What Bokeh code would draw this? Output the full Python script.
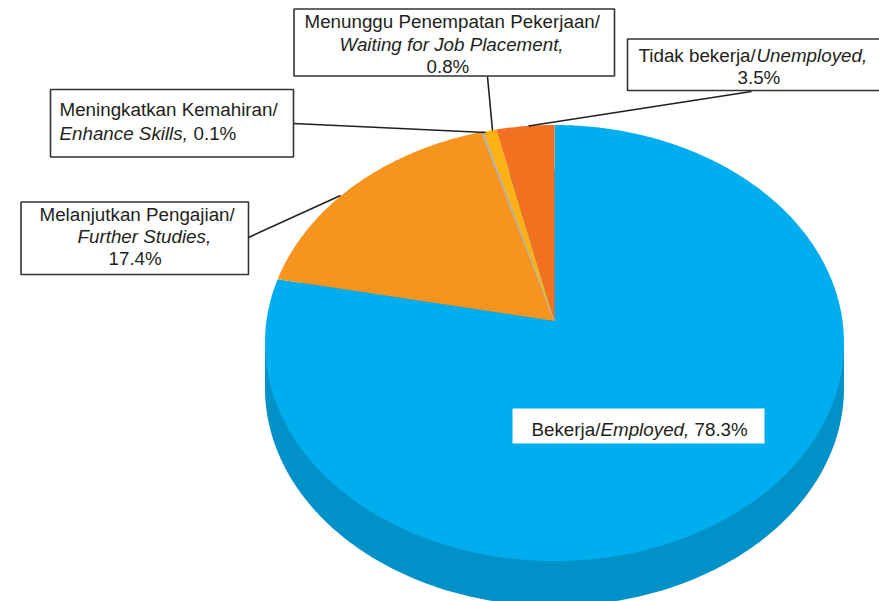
import numpy as np
from bokeh.plotting import figure
from bokeh.models import Range1d
from bokeh.core.properties import value
from bokeh.embed import file_html
from bokeh.resources import INLINE

# ---- data ----
categories = ["Bekerja/Employed", "Melanjutkan Pengajian/Further Studies",
              "Meningkatkan Kemahiran/Enhance Skills",
              "Menunggu Penempatan Pekerjaan/Waiting for Job Placement",
              "Tidak bekerja/Unemployed"]
percent = [78.3, 17.4, 0.1, 0.8, 3.5]
colors = ["#00AEEF", "#F7941E", "#B3B3B3", "#FDB115", "#F37021"]
side_color = "#0091C9"

# ---- pie geometry (page pixels) ----
CX, CY, RX, RY = 554.0, 342.5, 289.5, 218.0
AX, AY = 554.0, 320.5
KY = 213.0
DEPTH = 45.0
FONT = "Liberation Sans"
FS = "18.8px"
INK = "#231F20"

p = figure(width=879, height=601, x_range=Range1d(0, 879), y_range=Range1d(601, 0),
           output_backend="svg", toolbar_location=None, min_border=0,
           outline_line_color=None, background_fill_color="white")
p.axis.visible = False
p.grid.visible = False


def rim(theta):
    dx, dy = RX * np.sin(theta), -KY * np.cos(theta)
    ox, oy = AX - CX, AY - CY
    a = (dx / RX) ** 2 + (dy / RY) ** 2
    b = 2 * (ox * dx / RX ** 2 + oy * dy / RY ** 2)
    c = (ox / RX) ** 2 + (oy / RY) ** 2 - 1
    t = (-b + np.sqrt(b * b - 4 * a * c)) / (2 * a)
    return AX + t * dx, AY + t * dy


t = np.linspace(0, 2 * np.pi, 361)
# side of the disc
p.patch(CX + RX * np.cos(t), CY + DEPTH + RY * np.sin(t), fill_color=side_color, line_color=None)
p.rect([CX], [CY + DEPTH / 2], width=[2 * RX], height=[DEPTH], fill_color=side_color, line_color=None)

# top slices
edges = np.cumsum([0] + percent) / sum(percent) * 2 * np.pi
for i in range(len(percent)):
    th = np.linspace(edges[i], edges[i + 1], max(3, int(percent[i] * 6)))
    x, y = rim(th)
    xs = np.concatenate([[AX], x])
    ys = np.concatenate([[AY], y])
    thin = percent[i] < 0.5
    p.patch(xs, ys, fill_color=colors[i], line_color=colors[i] if thin else None, line_width=1.5 if thin else 0)

# label boxes (left, top, right, bottom)
boxes = [(293.5, 8.5, 614, 75.5), (50, 89, 293, 156.5), (20.5, 201.5, 248, 274), (627, 38.5, 880, 90)]
for l, tp, r, b in boxes:
    p.quad(left=[l], right=[r], top=[tp], bottom=[b], fill_color="white", line_color="#333333", line_width=1.6)
p.quad(left=[512], right=[764], top=[408], bottom=[443], fill_color="white", line_color=None)

# leaders
for xs, ys in [([487, 492], [76, 130]), ([293, 485], [123, 132]),
               ([248, 340], [237, 195]), ([751, 528], [91, 125.5])]:
    p.line(xs, ys, line_color="#231F20", line_width=1.6)

# texts: (x, y, string, style)
texts = [
    (304, 21, "Menunggu Penempatan Pekerjaan/", "normal"),
    (339, 44, "Waiting for Job Placement,", "italic"),
    (426, 66, "0.8%", "normal"),
    (59, 109, "Meningkatkan Kemahiran/", "normal"),
    (59, 133, "Enhance Skills,", "italic"),
    (193, 133, "0.1%", "normal"),
    (39, 214, "Melanjutkan Pengajian/", "normal"),
    (77, 236, "Further Studies,", "italic"),
    (108, 258, "17.4%", "normal"),
    (638, 55, "Tidak bekerja/", "normal"),
    (756, 55, "Unemployed,", "italic"),
    (737, 77, "3.5%", "normal"),
    (531, 429, "Bekerja/", "normal"),
    (600, 429, "Employed,", "italic"),
    (694, 429, "78.3%", "normal"),
]
for x, y, s, st in texts:
    p.text([x], [y], text=[s], text_font=value(FONT), text_font_size=FS, text_font_style=st,
           text_color=INK, text_align="left", text_baseline="middle")

open("out.html", "w").write(file_html(p, INLINE))
